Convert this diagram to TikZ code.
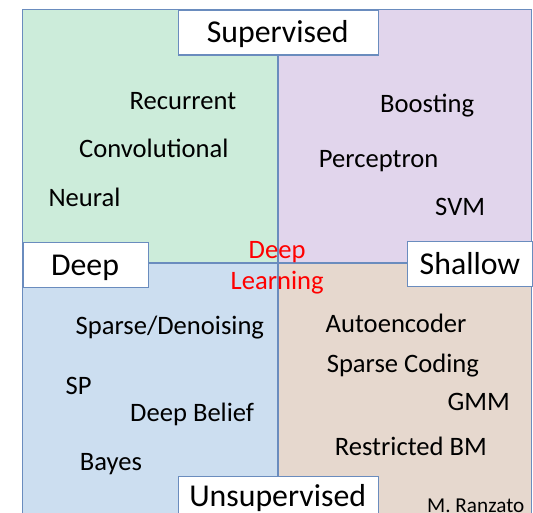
\documentclass[tikz,border=0pt]{standalone}
\usepackage{fontspec}
\setmainfont{Carlito}
\definecolor{qgreen}{RGB}{204,236,218}
\definecolor{qpurple}{RGB}{225,213,236}
\definecolor{qblue}{RGB}{204,222,240}
\definecolor{qtan}{RGB}{230,216,206}
\definecolor{rule}{RGB}{106,140,190}
\definecolor{hilite}{RGB}{255,0,0}
\tikzset{
  divider/.style={draw=rule, line width=1.3pt},
  labelbox/.style={draw=rule, line width=1.4pt, fill=white, rectangle, inner sep=0pt, anchor=north west},
  bigtext/.style={font=\fontsize{31.8}{36}\selectfont, inner sep=0pt, anchor=base},
  item/.style={font=\fontsize{26.6}{30}\selectfont, inner sep=0pt, anchor=base west},
  redtext/.style={item, text=hilite},
  credit/.style={font=\fontsize{21.2}{24}\selectfont, inner sep=0pt, anchor=base west}
}
\begin{document}
\begin{tikzpicture}[x=1pt,y=-1pt]
\useasboundingbox (0,0) rectangle (533,513);
\clip (0,0) rectangle (533,513);
% four quadrants
\fill[qgreen]  (22.4,9.2) rectangle (278,263);
\fill[qpurple] (278,9.2) rectangle (531.7,263);
\fill[qblue]   (22.4,263) rectangle (278,530);
\fill[qtan]    (278,263) rectangle (531.7,530);
% frame and axes
\draw[divider] (22.4,530) -- (22.4,9.2) -- (531.7,9.2) -- (531.7,530);
\draw[divider] (278,9.2) -- (278,530);
\draw[divider] (22.4,263) -- (531.7,263);
% axis label boxes
\node[labelbox, minimum width=200.5pt, minimum height=45.2pt] (supbox) at (177.5,9.2) {};
\node[bigtext] (sup) at (277.7,42.7) {Supervised};
\node[labelbox, minimum width=125.6pt, minimum height=45pt] (deepbox) at (22.4,242) {};
\node[bigtext] (deep) at (85,275.7) {Deep};
\node[labelbox, minimum width=125pt, minimum height=45pt] (shalbox) at (407,241) {};
\node[bigtext] (shallow) at (470,274.7) {Shallow};
\node[labelbox, minimum width=200.5pt, minimum height=50pt] (unsbox) at (177.5,476) {};
\node[bigtext] (uns) at (277.7,506.7) {Unsupervised};
% deep, supervised
\node[item] (rec)  at (129.5,109.3) {Recurrent};
\node[item] (conv) at (79,157.3) {Convolutional};
\node[item] (neur) at (48.3,206.7) {Neural};
% shallow, supervised
\node[item] (boost) at (380,112.7) {Boosting};
\node[item] (perc)  at (318.7,167.7) {Perceptron};
\node[item] (svm)   at (435,216) {SVM};
% centre
\node[redtext] (dl1) at (248.5,258.3) {Deep};
\node[redtext] (dl2) at (230.5,290) {Learning};
% deep, unsupervised
\node[item] (sden)  at (75.5,334.3) {Sparse/Denoising};
\node[item] (sp)    at (65.5,394) {SP};
\node[item] (dbel)  at (130,421.7) {Deep Belief};
\node[item] (bayes) at (79.6,470.7) {Bayes};
% shallow, unsupervised
\node[item] (auto) at (325.5,332) {Autoencoder};
\node[item] (scod) at (326.6,372.7) {Sparse Coding};
\node[item] (gmm)  at (447.3,410.7) {GMM};
\node[item] (rbm)  at (334.7,455.3) {Restricted BM};
\node[credit] (auth) at (427,512) {M. Ranzato};
\end{tikzpicture}
\end{document}
